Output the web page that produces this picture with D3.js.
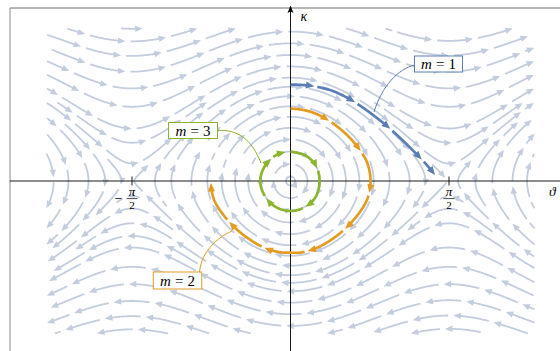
<!DOCTYPE html>
<html>
<head>
<meta charset="utf-8">
<script src="https://cdn.jsdelivr.net/npm/d3@7"></script>
<style>
  html, body { margin: 0; padding: 0; background: #fff; }
  svg { display: block; }
</style>
</head>
<body>
<div id="chart"></div>
<script>
// ---------- data ----------
const thetaDomain = [-2.42, 2.42];
const kappaDomain = [-2.12, 2.12];

const tickValues = [-Math.PI / 2, Math.PI / 2];
const tickSigns = ["\u2212", ""];
const tickNumerators = ["\u03c0", "\u03c0"];
const tickDenominators = ["2", "2"];

const orbitM = [1, 2, 3];

// highlighted trajectories (theta, kappa)
const m1Theta = [0, 0.124, 0.243, 0.391, 0.510, 0.610, 0.709, 0.837, 0.956, 1.055, 1.154, 1.253, 1.343, 1.432];
const m1Kappa = [1.340, 1.333, 1.313, 1.264, 1.194, 1.118, 1.028, 0.896, 0.764, 0.639, 0.507, 0.368, 0.236, 0.083];

const m2Theta = [0, 0.100, 0.200, 0.300, 0.401, 0.500, 0.599, 0.698, 0.753, 0.783, 0.793, 0.783, 0.753, 0.698, 0.599, 0.500,
  0.401, 0.300, 0.200, 0.100, 0, -0.100, -0.200, -0.300, -0.401, -0.500, -0.599, -0.698, -0.753, -0.781, -0.788, -0.786];
const m2Kappa = [1.007, 0.993, 0.961, 0.903, 0.819, 0.715, 0.583, 0.410, 0.278, 0.139, 0, -0.139, -0.278, -0.410, -0.583, -0.715,
  -0.819, -0.903, -0.961, -0.993, -0.996, -0.990, -0.958, -0.900, -0.815, -0.712, -0.580, -0.408, -0.275, -0.137, 0, 0.04];

const m3Theta = [0, 0.147, 0.255, 0.287, 0.255, 0.147, 0, -0.147, -0.255, -0.300, -0.255, -0.147, -0.051];
const m3Kappa = [0.407, 0.355, 0.205, 0, -0.207, -0.360, -0.417, -0.360, -0.207, 0, 0.206, 0.356, 0.402];

// phase-space flow of the stream plot: theta' = kappa, kappa' = -sin(2 theta)
function flow(th, ka) {
  return [ka, -Math.sin(2 * th)];
}

// ---------- layout ----------
const W = 560, H = 351;
const streamColor = "#c3cddd";
const orbitColors = ["#5b7db5", "#e39b24", "#8cb42d"];

const svg = d3.select("#chart").append("svg")
  .attr("width", W)
  .attr("height", H);

const x = d3.scaleLinear().domain([-Math.PI / 2, Math.PI / 2]).range([132, 449]);
const y = d3.scaleLinear().domain([-1, 1]).range([253, 109]);

// frame (cropped)
svg.append("line").attr("x1", 10).attr("y1", 8).attr("x2", W).attr("y2", 8)
  .attr("stroke", "#6e6e6e").attr("stroke-width", 1.2);
svg.append("line").attr("x1", 10).attr("y1", 8).attr("x2", 10).attr("y2", H)
  .attr("stroke", "#9c9c9c").attr("stroke-width", 1.2);

// ---------- polyline helpers ----------
function cumLen(pts) {
  const s = [0];
  for (let i = 1; i < pts.length; i++) {
    s.push(s[i - 1] + Math.hypot(pts[i][0] - pts[i - 1][0], pts[i][1] - pts[i - 1][1]));
  }
  return s;
}
function pointAt(pts, s, d) {
  let lo = 0, hi = s.length - 1;
  if (d <= 0) return pts[0].slice();
  if (d >= s[hi]) return pts[hi].slice();
  while (hi - lo > 1) {
    const mid = (lo + hi) >> 1;
    if (s[mid] <= d) lo = mid; else hi = mid;
  }
  const t = (d - s[lo]) / (s[hi] - s[lo] || 1);
  return [pts[lo][0] + t * (pts[hi][0] - pts[lo][0]), pts[lo][1] + t * (pts[hi][1] - pts[lo][1])];
}
function slicePts(pts, s, a, b) {
  const out = [pointAt(pts, s, a)];
  for (let i = 0; i < pts.length; i++) if (s[i] > a && s[i] < b) out.push(pts[i]);
  out.push(pointAt(pts, s, b));
  return out;
}

function drawDashed(g, pts, opt) {
  const s = cumLen(pts), total = s[s.length - 1];
  let start = -opt.phase;
  while (start < total) {
    const a = Math.max(0, start), b = Math.min(total, start + opt.dash);
    if (b - a > 3) {
      const hasArrow = b - a > opt.arrow * 1.2;
      const lineEnd = hasArrow ? b - opt.arrow * 0.6 : b;
      g.append("path")
        .attr("d", d3.line()(slicePts(pts, s, a, lineEnd)))
        .attr("fill", "none")
        .attr("stroke", opt.color)
        .attr("stroke-width", opt.width);
      if (hasArrow) {
        const tip = pointAt(pts, s, b), back = pointAt(pts, s, b - 2.5);
        let dx = tip[0] - back[0], dy = tip[1] - back[1];
        const m = Math.hypot(dx, dy) || 1;
        dx /= m; dy /= m;
        const bx = tip[0] - dx * opt.arrow, by = tip[1] - dy * opt.arrow;
        g.append("path")
          .attr("d", `M${tip[0]},${tip[1]}L${bx - dy * opt.half},${by + dx * opt.half}L${bx + dy * opt.half},${by - dx * opt.half}Z`)
          .attr("fill", opt.color);
      }
    }
    start += opt.dash + opt.gap;
  }
}

// ---------- evenly spaced streamlines ----------
const dsep = 12.5, dtest = 6.3, h = 1, minSpeed = 2;
const X0 = x(thetaDomain[0]), X1 = x(thetaDomain[1]);
const Y0 = y(kappaDomain[1]), Y1 = y(kappaDomain[0]);
const kx = x(1) - x(0), ky = y(0) - y(1);

function dirAt(px, py) {
  const v = flow(x.invert(px), y.invert(py));
  const vx = v[0] * kx, vy = -v[1] * ky;
  const m = Math.hypot(vx, vy);
  return m < 1e-9 ? null : [vx / m, vy / m, m];
}

const cell = dsep;
function key(px, py) { return Math.floor(px / cell) + Math.floor(py / cell) * 1000; }
function gridAdd(grid, p) {
  const k = key(p[0], p[1]);
  if (!grid.has(k)) grid.set(k, []);
  grid.get(k).push(p);
}
function gridNear(grid, px, py, r, sc) {
  const cx = Math.floor(px / cell), cy = Math.floor(py / cell);
  for (let i = -1; i <= 1; i++) for (let j = -1; j <= 1; j++) {
    const arr = grid.get(cx + i + (cy + j) * 1000);
    if (!arr) continue;
    for (const p of arr) {
      if (sc !== undefined && Math.abs(p[2] - sc) < 3 * dsep) continue;
      if ((p[0] - px) ** 2 + (p[1] - py) ** 2 < r * r) return true;
    }
  }
  return false;
}

const grid = new Map();

function trace(sx, sy, sign, own) {
  const pts = [];
  let px = sx, py = sy, s = 0;
  for (let i = 0; i < 5000; i++) {
    const d1 = dirAt(px, py);
    if (!d1 || d1[2] < minSpeed) break;
    const d2 = dirAt(px + sign * d1[0] * h / 2, py + sign * d1[1] * h / 2);
    if (!d2) break;
    const nx = px + sign * d2[0] * h, ny = py + sign * d2[1] * h;
    if (nx < X0 || nx > X1 || ny < Y0 || ny > Y1) break;
    if (gridNear(grid, nx, ny, dtest)) break;
    s += sign * h;
    if (gridNear(own, nx, ny, dtest, s)) break;
    gridAdd(own, [nx, ny, s]);
    pts.push([nx, ny]);
    px = nx; py = ny;
  }
  return pts;
}

function streamline(sx, sy) {
  const own = new Map();
  gridAdd(own, [sx, sy, 0]);
  const f = trace(sx, sy, 1, own);
  const b = trace(sx, sy, -1, own);
  return b.reverse().concat([[sx, sy]], f);
}

function validSeed(px, py) {
  if (px < X0 || px > X1 || py < Y0 || py > Y1) return false;
  const d = dirAt(px, py);
  if (!d || d[2] < minSpeed) return false;
  return !gridNear(grid, px, py, dsep * 0.98);
}

const lines = [];
function grow(sx, sy) {
  const queue = [];
  const first = streamline(sx, sy);
  if (first.length < 10) return;
  first.forEach(p => gridAdd(grid, p));
  lines.push(first);
  queue.push(first);
  while (queue.length) {
    const L = queue.shift();
    for (let i = 1; i < L.length - 1; i += 3) {
      const dx = L[i + 1][0] - L[i - 1][0], dy = L[i + 1][1] - L[i - 1][1];
      const m = Math.hypot(dx, dy) || 1;
      for (const sgn of [1, -1]) {
        const cx = L[i][0] - sgn * dy / m * dsep, cy = L[i][1] + sgn * dx / m * dsep;
        if (!validSeed(cx, cy)) continue;
        const nl = streamline(cx, cy);
        if (nl.length < 10) continue;
        nl.forEach(p => gridAdd(grid, p));
        lines.push(nl);
        queue.push(nl);
      }
    }
  }
}

grow(x(0), y(1.75));
for (let py = Y0 + 3; py < Y1; py += 6) {
  for (let px = X0 + 3; px < X1; px += 6) {
    if (validSeed(px, py)) grow(px, py);
  }
}

const streamG = svg.append("g").attr("class", "streams");
lines.forEach((L, i) => {
  drawDashed(streamG, L, {
    dash: 36, gap: 5, phase: (i * 11.7) % 41,
    arrow: 7.5, half: 3.2, width: 1.8, color: streamColor
  });
});

// ---------- axes ----------
const axisG = svg.append("g").attr("class", "axes");
axisG.append("line")
  .attr("x1", 10).attr("x2", W).attr("y1", y(0)).attr("y2", y(0))
  .attr("stroke", "#000").attr("stroke-width", 0.9);
axisG.append("line")
  .attr("x1", x(0)).attr("x2", x(0)).attr("y1", H).attr("y2", 10)
  .attr("stroke", "#000").attr("stroke-width", 0.9);
axisG.append("path")
  .attr("d", `M${x(0)},5.5L${x(0) - 3},13L${x(0)},11.3L${x(0) + 3},13Z`)
  .attr("fill", "#000");

const serif = "'Liberation Serif', 'DejaVu Serif', serif";

axisG.append("text")
  .attr("x", x(0) + 10).attr("y", 21)
  .attr("font-family", serif).attr("font-style", "italic").attr("font-size", 14)
  .text("\u03ba");
axisG.append("text")
  .attr("x", 549).attr("y", 196)
  .attr("font-family", serif).attr("font-style", "italic").attr("font-size", 13.5)
  .text("\u03d1");

const ticks = axisG.selectAll(".tick")
  .data(tickValues)
  .enter().append("g")
  .attr("class", "tick")
  .attr("transform", d => `translate(${x(d)},${y(0)})`);
ticks.append("line").attr("y1", -4.5).attr("y2", 4.5).attr("stroke", "#000").attr("stroke-width", 0.9);
ticks.append("text")
  .attr("text-anchor", "middle").attr("y", 15.3)
  .attr("font-family", serif).attr("font-style", "italic").attr("font-size", 13)
  .text((d, i) => tickNumerators[i]);
ticks.append("line")
  .attr("x1", -5.5).attr("x2", 5.5).attr("y1", 17.6).attr("y2", 17.6)
  .attr("stroke", "#000").attr("stroke-width", 0.7);
ticks.append("text")
  .attr("text-anchor", "middle").attr("y", 27.5)
  .attr("font-family", serif).attr("font-size", 11)
  .text((d, i) => tickDenominators[i]);
ticks.append("text")
  .attr("text-anchor", "end").attr("x", -9.5).attr("y", 22)
  .attr("font-family", serif).attr("font-size", 14)
  .text((d, i) => tickSigns[i]);

// ---------- highlighted trajectories ----------
const orbitTheta = [m1Theta, m2Theta, m3Theta];
const orbitKappa = [m1Kappa, m2Kappa, m3Kappa];
const orbitPhase = [17, 0, 8];

const orbitLine = d3.line()
  .x(d => x(d[0]))
  .y(d => y(d[1]))
  .curve(d3.curveCatmullRom.alpha(0.5));

const orbitG = svg.append("g").attr("class", "orbits");
orbitM.forEach((m, k) => {
  const data = orbitTheta[k].map((t, i) => [t, orbitKappa[k][i]]);
  const guide = svg.append("path").attr("d", orbitLine(data)).attr("fill", "none").attr("stroke", "none");
  const node = guide.node();
  const len = node.getTotalLength();
  const pts = [];
  for (let d = 0; d <= len; d += 1) {
    const p = node.getPointAtLength(d);
    pts.push([p.x, p.y]);
  }
  const last = node.getPointAtLength(len);
  pts.push([last.x, last.y]);
  guide.remove();
  drawDashed(orbitG, pts, {
    dash: 41, gap: 3, phase: orbitPhase[k],
    arrow: 8.5, half: 3.6, width: 2.7, color: orbitColors[k]
  });
});

// ---------- labels ----------
const labelBoxes = [
  { cx: 438.5, cy: 64, w: 48, h: 16, path: "M414.5,65C398,69 382,86 374,112" },
  { cx: 177.5, cy: 280.5, w: 48.5, h: 17, path: "M199.5,272C201,256 212,240 232,231" },
  { cx: 193, cy: 130.5, w: 49, h: 16, path: "M217.5,130.5C238,129 252,140 261,163" }
];

const labelG = svg.append("g").attr("class", "labels");
orbitM.forEach((m, k) => {
  const b = labelBoxes[k];
  labelG.append("path")
    .attr("d", b.path)
    .attr("fill", "none")
    .attr("stroke", orbitColors[k])
    .attr("stroke-width", 1);
  labelG.append("rect")
    .attr("x", b.cx - b.w / 2).attr("y", b.cy - b.h / 2)
    .attr("width", b.w).attr("height", b.h)
    .attr("fill", "#fff")
    .attr("stroke", orbitColors[k])
    .attr("stroke-width", 1);
  const t = labelG.append("text")
    .attr("x", b.cx).attr("y", b.cy + 5)
    .attr("text-anchor", "middle")
    .attr("font-family", serif).attr("font-size", 15);
  t.append("tspan").attr("font-style", "italic").text("m");
  t.append("tspan").attr("dx", 4).text("=");
  t.append("tspan").attr("dx", 4).text(m);
});
</script>
</body>
</html>
